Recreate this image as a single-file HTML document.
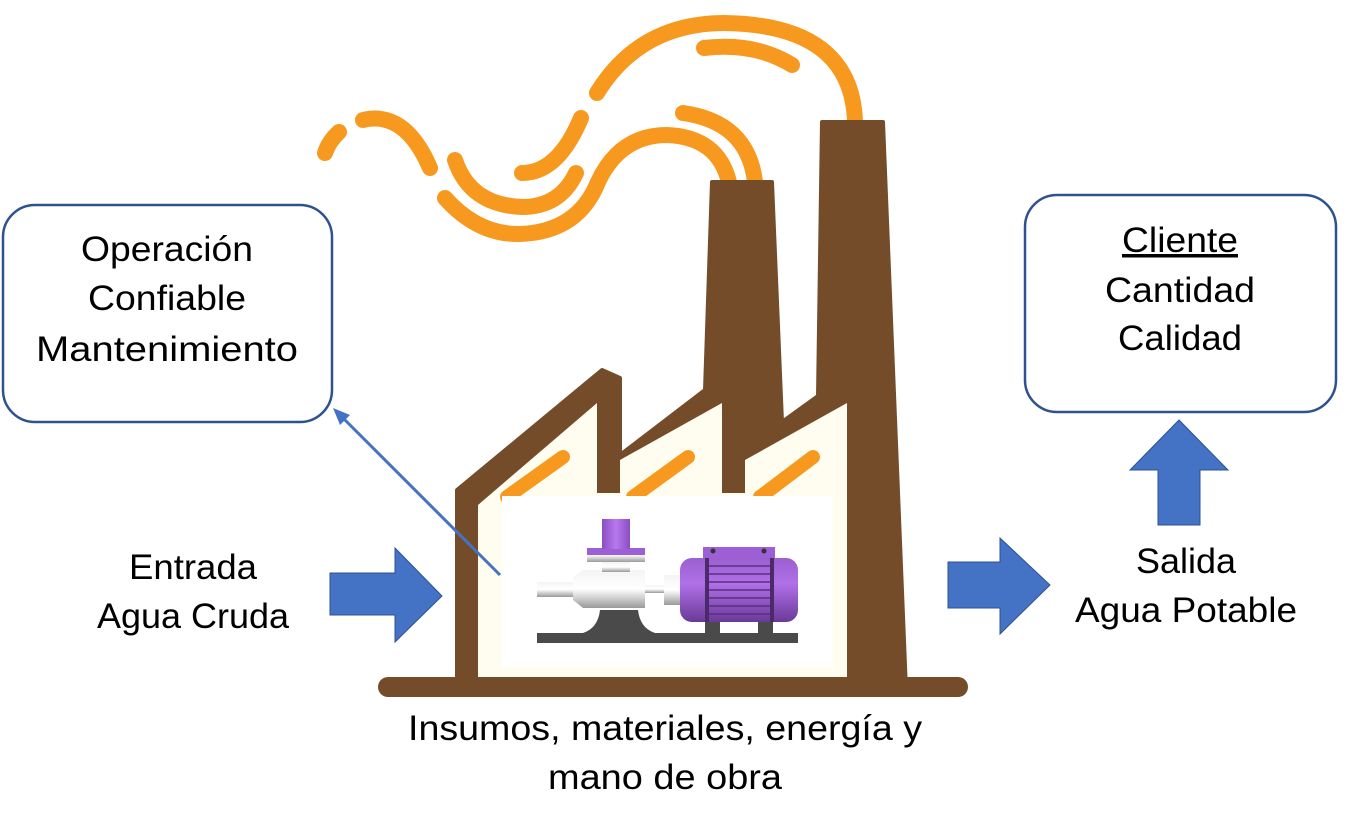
<!DOCTYPE html>
<html><head><meta charset="utf-8"><style>
html,body{margin:0;padding:0;background:#fff;}
svg{display:block;}
text{font-family:"Liberation Sans",sans-serif;font-size:35px;fill:#000;}
</style></head><body>
<svg width="1351" height="829" viewBox="0 0 1351 829" xmlns="http://www.w3.org/2000/svg">
<g fill="none" stroke="#f7991f" stroke-width="16" stroke-linecap="round">
<path d="M325,153 Q329,141 339,132"/>
<path d="M363,120 Q405,110 430,168"/>
<path d="M455,160 Q470,205 522,207 Q560,207 576,173"/>
<path d="M522,173 Q558,173 581,118"/>
<path d="M445,198 Q478,235 520,234 Q578,232 598,182 Q620,135 667,135 Q718,137 729,182"/>
<path d="M683,113 Q748,122 755,182"/>
<path d="M597,93 Q640,23 725,23 Q852,25 855,122"/>
<path d="M704,48 Q755,42 792,65"/>
</g>
<polygon fill="#754c2a" stroke="#754c2a" stroke-width="4" stroke-linejoin="round" points="457,690 457,490 602,370 620,378 620,455 705,390 712,182 772,182 782,422 818,396 822,122 883,122 906,690"/>
<rect x="378" y="677" width="590" height="20" rx="10" fill="#754c2a"/>
<polygon fill="#fffdf0" points="478,677 478,505 597,403 597,493 620,493 620,460 722,403 722,493 745,493 745,460 847,403 847,677"/>
<g stroke="#f7991f" stroke-width="14" stroke-linecap="round">
<line x1="507" y1="497" x2="563" y2="457"/>
<line x1="633" y1="497" x2="688" y2="457"/>
<line x1="760" y1="497" x2="813" y2="457"/>
</g>
<rect x="502" y="496" width="331" height="171" fill="#fff"/>
<defs>
<linearGradient id="gw" x1="0" y1="0" x2="0" y2="1"><stop offset="0" stop-color="#f4f4f4"/><stop offset="0.5" stop-color="#ffffff"/><stop offset="1" stop-color="#9a9a9a"/></linearGradient>
<linearGradient id="gp" x1="0" y1="0" x2="0" y2="1"><stop offset="0" stop-color="#9b5fd0"/><stop offset="0.4" stop-color="#b070e8"/><stop offset="1" stop-color="#6a3a98"/></linearGradient>
<linearGradient id="gph" x1="0" y1="0" x2="1" y2="0"><stop offset="0" stop-color="#8a4fc0"/><stop offset="0.5" stop-color="#b878f0"/><stop offset="1" stop-color="#8a4fc0"/></linearGradient>
</defs>
<path d="M583,633 Q598,628 600,610 L638,610 Q640,628 655,633 Z" fill="#4a4a4a"/>
<rect x="537" y="633" width="261" height="10" fill="#4a4a4a"/>
<rect x="537" y="582" width="38" height="15" fill="url(#gw)"/>
<path d="M573,577 L583,570 L645,570 L645,608 L583,608 L573,600 Z" fill="url(#gw)"/>
<rect x="602" y="562" width="28" height="10" fill="url(#gw)"/>
<rect x="587" y="548" width="58" height="14" fill="url(#gw)"/>
<rect x="587" y="548" width="58" height="7" fill="#9d5fd6"/>
<rect x="602" y="519" width="28" height="30" fill="url(#gph)"/>
<rect x="645" y="585" width="22" height="8" fill="url(#gw)"/>
<rect x="664" y="575" width="17" height="30" fill="url(#gw)"/>
<rect x="705" y="618" width="15" height="16" fill="#4a4a4a"/>
<rect x="758" y="618" width="15" height="16" fill="#4a4a4a"/>
<rect x="680" y="558" width="118" height="64" rx="12" fill="url(#gp)"/>
<rect x="703" y="547" width="72" height="11" fill="#9d5fd6"/>
<circle cx="713" cy="551" r="2.5" fill="#333"/><circle cx="764" cy="551" r="2.5" fill="#333"/>
<g stroke="#5a2f80" stroke-width="1.5">
<line x1="708" y1="566" x2="772" y2="566"/><line x1="708" y1="574" x2="772" y2="574"/><line x1="708" y1="582" x2="772" y2="582"/><line x1="708" y1="590" x2="772" y2="590"/><line x1="708" y1="598" x2="772" y2="598"/><line x1="708" y1="606" x2="772" y2="606"/><line x1="708" y1="614" x2="772" y2="614"/>
</g>
<rect x="705" y="558" width="4" height="64" fill="#4a2a68"/><rect x="770" y="558" width="4" height="64" fill="#4a2a68"/>
<line x1="500" y1="575" x2="343" y2="418" stroke="#4472c4" stroke-width="3"/>
<polygon points="333,408 350,415 340,425" fill="#4472c4"/>
<polygon points="330,573 395,573 395,548 442,596 395,642 395,615 330,615" fill="#4472c4" stroke="#2f528f" stroke-width="1"/>
<polygon points="948,562 1000,562 1000,538 1050,585 1000,634 1000,608 948,608" fill="#4472c4" stroke="#2f528f" stroke-width="1"/>
<polygon points="1158,525 1158,470 1130,470 1179,420 1228,470 1200,470 1200,525" fill="#4472c4" stroke="#2f528f" stroke-width="1"/>
<rect x="3" y="205" width="329" height="217" rx="32" fill="#fff" stroke="#2f528f" stroke-width="2.5"/>
<rect x="1025" y="195" width="311" height="217" rx="32" fill="#fff" stroke="#2f528f" stroke-width="2.5"/>
<text x="167" y="261" text-anchor="middle" textLength="172" lengthAdjust="spacingAndGlyphs">Operación</text>
<text x="167" y="310" text-anchor="middle" textLength="158" lengthAdjust="spacingAndGlyphs">Confiable</text>
<text x="167" y="361" text-anchor="middle" textLength="262" lengthAdjust="spacingAndGlyphs">Mantenimiento</text>
<text x="1180" y="252" text-anchor="middle" textLength="116" lengthAdjust="spacingAndGlyphs" text-decoration="underline">Cliente</text>
<text x="1180" y="302" text-anchor="middle" textLength="150" lengthAdjust="spacingAndGlyphs">Cantidad</text>
<text x="1180" y="350" text-anchor="middle" textLength="124" lengthAdjust="spacingAndGlyphs">Calidad</text>
<text x="193" y="579" text-anchor="middle" textLength="128" lengthAdjust="spacingAndGlyphs">Entrada</text>
<text x="193" y="628" text-anchor="middle" textLength="192" lengthAdjust="spacingAndGlyphs">Agua Cruda</text>
<text x="1186" y="573" text-anchor="middle" textLength="100" lengthAdjust="spacingAndGlyphs">Salida</text>
<text x="1186" y="622" text-anchor="middle" textLength="222" lengthAdjust="spacingAndGlyphs">Agua Potable</text>
<text x="665" y="740" text-anchor="middle" textLength="514" lengthAdjust="spacingAndGlyphs">Insumos, materiales, energía y</text>
<text x="665" y="789" text-anchor="middle" textLength="234" lengthAdjust="spacingAndGlyphs">mano de obra</text>
</svg>
</body></html>
